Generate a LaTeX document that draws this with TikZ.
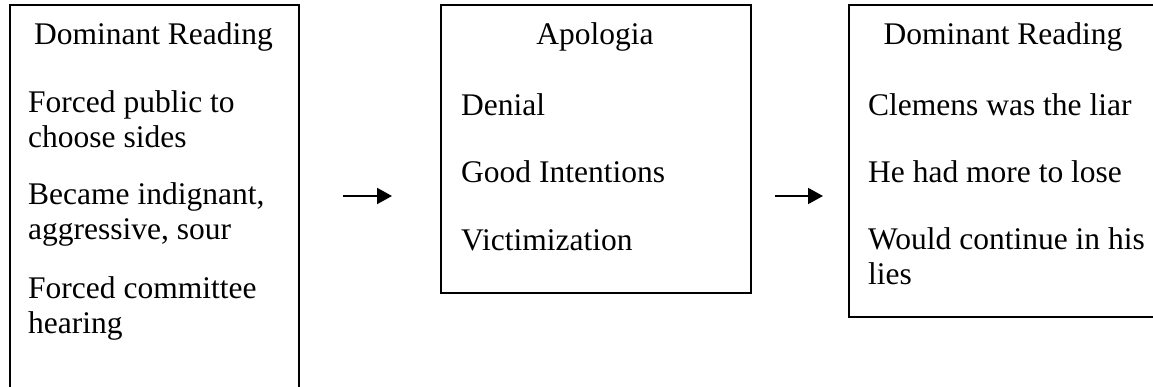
\documentclass[tikz,border=0pt]{standalone}
\usepackage{fontspec}
\setmainfont{Liberation Serif}
\usetikzlibrary{arrows.meta}
\begin{document}
\begin{tikzpicture}[x=1pt,y=-1pt,
  box/.style={draw, line width=2pt, inner sep=0pt, anchor=north west},
  txt/.style={anchor=base west, inner sep=0pt, align=left, font=\fontsize{31.5}{35}\selectfont},
  ttl/.style={anchor=base, inner sep=0pt, font=\fontsize{31.5}{35}\selectfont},
  arr/.style={line width=2pt, -{Triangle[length=15pt,width=16pt]}}]
\useasboundingbox (0,0) rectangle (1153,387);
\clip (0,0) rectangle (1153,387);
% boxes
\node[box, minimum width=289pt, minimum height=440pt] (L) at (9,4) {};
\node[box, minimum width=310pt, minimum height=288pt] (M) at (440,4) {};
\node[box, minimum width=310pt, minimum height=312pt] (R) at (848,4) {};
% left box text (multi-line nodes: base = last line)
\node[ttl] (Lt) at (153.5,45) {Dominant Reading};
\node[txt] (L1) at (28,148) {Forced public to\\choose sides};
\node[txt] (L2) at (28,240) {Became indignant,\\aggressive, sour};
\node[txt] (L3) at (28,333) {Forced committee\\hearing};
% middle box text
\node[ttl] (Mt) at (595,45) {Apologia};
\node[txt] (M1) at (461,116) {Denial};
\node[txt] (M2) at (461,183) {Good Intentions};
\node[txt] (M3) at (461,251) {Victimization};
% right box text
\node[ttl] (Rt) at (1003,45) {Dominant Reading};
\node[txt] (R1) at (868,116) {Clemens was the liar};
\node[txt] (R2) at (868,183) {He had more to lose};
\node[txt] (R3) at (868,284) {Would continue in his\\lies};
% arrows
\coordinate (a1s) at (343,196);
\coordinate (a1e) at (392,196);
\coordinate (a2s) at (775,196);
\coordinate (a2e) at (823,196);
\draw[arr] (a1s) -- (a1e);
\draw[arr] (a2s) -- (a2e);
\end{tikzpicture}
\end{document}
